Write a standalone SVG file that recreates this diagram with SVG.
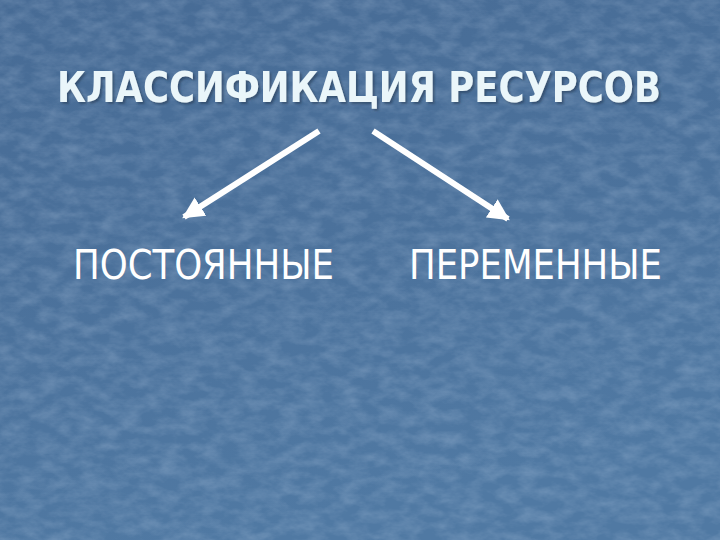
<svg xmlns="http://www.w3.org/2000/svg" width="720" height="540" viewBox="0 0 720 540">
<defs>
<linearGradient id="bg" x1="0" y1="0" x2="0.3" y2="1">
<stop offset="0" stop-color="#476b95"/>
<stop offset="0.5" stop-color="#4b719b"/>
<stop offset="1" stop-color="#5079a3"/>
</linearGradient>
<filter id="tex" x="0" y="0" width="1" height="1">
<feTurbulence type="fractalNoise" baseFrequency="0.05 0.09" numOctaves="4" seed="7" result="n"/>
<feColorMatrix type="matrix" values="0 0 0 0 0.75  0 0 0 0 0.85  0 0 0 0 1  0.35 0 0 0 -0.12" in="n" result="w"/>
<feComposite in="w" in2="SourceGraphic" operator="in"/>
</filter>
<filter id="sh" x="-5%" y="-20%" width="110%" height="150%">
<feDropShadow dx="2" dy="2" stdDeviation="1" flood-color="#1f3550" flood-opacity="0.55"/>
</filter>
<marker id="ah" viewBox="0 0 10 10" refX="9" refY="5" markerWidth="3.6" markerHeight="3.6" orient="auto" markerUnits="strokeWidth">
<path d="M0,0 L10,5 L0,10 z" fill="#ffffff"/>
</marker>
<style>
.title{font-family:"DejaVu Sans Condensed","DejaVu Sans","Liberation Sans",sans-serif;font-weight:bold;font-size:43px;fill:#eaf6fa}
.sub{font-family:"DejaVu Sans Condensed","DejaVu Sans","Liberation Sans",sans-serif;font-size:40px;fill:#ffffff}
.arr{stroke:#ffffff;stroke-width:6;fill:none;marker-end:url(#ah)}
</style>
</defs>
<rect width="720" height="540" fill="url(#bg)"/>
<rect width="720" height="540" fill="#4c729c" filter="url(#tex)"/>
<g id="title" filter="url(#sh)">
<text class="title" x="57" y="102" textLength="604" lengthAdjust="spacingAndGlyphs">КЛАССИФИКАЦИЯ РЕСУРСОВ</text>
</g>
<g id="connectors">
<line class="arr" x1="319" y1="131" x2="184" y2="217"/>
<line class="arr" x1="373" y1="131" x2="508" y2="219"/>
</g>
<g id="node-constant">
<text class="sub" x="73" y="279" textLength="261" lengthAdjust="spacingAndGlyphs">ПОСТОЯННЫЕ</text>
</g>
<g id="node-variable">
<text class="sub" x="409" y="279" textLength="253" lengthAdjust="spacingAndGlyphs">ПЕРЕМЕННЫЕ</text>
</g>
</svg>
